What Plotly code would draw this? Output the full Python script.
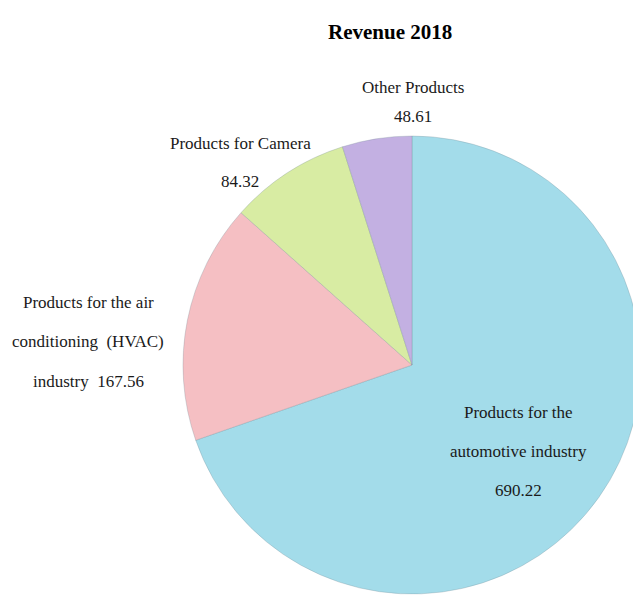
import plotly.graph_objects as go

title = "Revenue 2018"
categories = ["Products for the automotive industry",
              "Products for the air conditioning (HVAC) industry",
              "Products for Camera",
              "Other Products"]
values = [690.22, 167.56, 84.32, 48.61]
colors = ["#A3DCEA", "#F5BFC3", "#D8ECA3", "#C3B0E2"]

# label lines per slice (text broken as in the reference)
label_lines = [
    ["Products for the", "automotive industry", f"{values[0]:.2f}"],
    ["Products for the air", "conditioning  (HVAC)", f"industry  {values[1]:.2f}"],
    ["Products for Camera", f"{values[2]:.2f}"],
    ["Other Products", f"{values[3]:.2f}"],
]
label_pos = [  # (x px, first line y px, line spacing px) in window coords
    (518, 412, 39),
    (88, 302, 39.5),
    (240, 143, 39),
    (413, 87, 30),
]

OFF = 8  # page body margin
W, H = 641 - OFF, 604 - OFF


def px(x):
    return (x - OFF) / W


def py(y):
    return 1 - (y - OFF) / H


fig = go.Figure(go.Pie(
    labels=categories, values=values, sort=False, direction="clockwise",
    rotation=0, marker=dict(colors=colors, line=dict(color="rgba(120,140,150,0.5)", width=0.6)),
    textinfo="none", hoverinfo="label+value", showlegend=False,
    domain=dict(x=[px(183), 1.0], y=[py(594), py(136)]),
))

font = dict(family="Liberation Serif, Times New Roman, serif", size=17, color="#1a1a1a")
for lines, (x, y0, dy) in zip(label_lines, label_pos):
    for i, t in enumerate(lines):
        fig.add_annotation(text=t, x=px(x), y=py(y0 + i * dy), xref="paper", yref="paper",
                           showarrow=False, xanchor="center", yanchor="middle", font=font)

fig.add_annotation(text=f"<b>{title}</b>", x=px(390), y=py(32), xref="paper", yref="paper",
                   showarrow=False, xanchor="center", yanchor="middle",
                   font=dict(family="Liberation Serif, Times New Roman, serif", size=21, color="black"))

fig.update_layout(width=W, height=H, margin=dict(l=0, r=0, t=0, b=0),
                  paper_bgcolor="white", plot_bgcolor="white")
fig.write_html("out.html")
